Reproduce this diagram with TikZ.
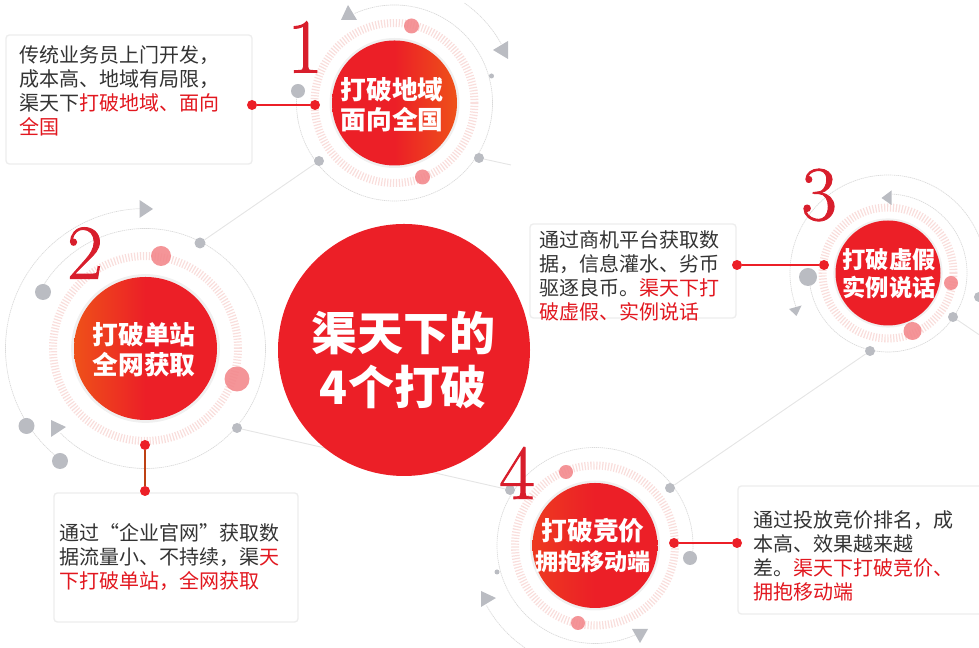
\documentclass[tikz,border=0pt]{standalone}
\usepackage{fontspec}
\newfontfamily\cjk[BoldFont={Noto Sans CJK SC Black}]{Noto Sans CJK SC}
\newfontfamily\numfont[FakeBold=1.2]{Latin Modern Roman}
\usetikzlibrary{shadows}
\definecolor{hubred}{HTML}{EC1F27}
\definecolor{hubfire}{HTML}{EE5119}
\definecolor{hubember}{HTML}{ED3A20}
\definecolor{numred}{HTML}{D81E2C}
\definecolor{mistgray}{HTML}{BABCC2}
\definecolor{rosepink}{HTML}{F3898D}
\definecolor{tickpink}{HTML}{F9DEDC}
\definecolor{inkgray}{HTML}{333333}
\definecolor{notered}{HTML}{E2171F}
\pgfdeclarehorizontalshading{fireright}{100bp}{color(0bp)=(hubred); color(50bp)=(hubred); color(75bp)=(hubfire); color(100bp)=(hubfire)}
\pgfdeclarehorizontalshading{fireleft}{100bp}{color(0bp)=(hubfire); color(25bp)=(hubfire); color(50bp)=(hubred); color(100bp)=(hubred)}
\pgfdeclarehorizontalshading{emberleft}{100bp}{color(0bp)=(hubember); color(25bp)=(hubember); color(50bp)=(hubred); color(100bp)=(hubred)}
\tikzset{
    hub/.style={circle,inner sep=0pt,minimum size=#1*.75pt,
        drop shadow={shadow xshift=0pt,shadow yshift=0pt,shadow scale=1.04,opacity=.12}},
    hublabel/.style={inner sep=0pt,text=white,align=center,
        font=\cjk\bfseries\fontsize{19.3}{22.5}\selectfont},
    graydot/.style={circle,inner sep=0pt,minimum size=#1*.75pt,fill=mistgray},
    pinkdot/.style={circle,inner sep=0pt,minimum size=#1*.75pt,fill=rosepink,opacity=.9},
    reddot/.style={circle,inner sep=0pt,minimum size=10*.75pt,fill=hubred},
    ticks/.style={draw=tickpink,line width=6pt,dash pattern=on .9pt off 1.3pt},
    ringline/.style={draw=black!15,line width=.5pt,dash pattern=on 1pt off .5pt},
    linkline/.style={draw=black!10,line width=.7pt},
    tipmark/.style={fill=mistgray},
    notebox/.style={draw=black!7,line width=1pt,fill=white,rounded corners=2.5pt,inner sep=0pt},
    notetext/.style={anchor=north west,inner sep=0pt,align=left,text=inkgray,
        font=\cjk\fontsize{15}{18}\selectfont},
    numlabel/.style={text=numred,font=\numfont\fontsize{58}{58}\selectfont}
}
\begin{document}
\begin{tikzpicture}[x=.75pt,y=.75pt]
    \useasboundingbox (0,0) rectangle (979,648);
    \clip (0,0) rectangle (979,648);

    \coordinate (c1) at (394.5,545);
    \coordinate (c2) at (145.5,299.5);
    \coordinate (c3) at (888,375);
    \coordinate (c4) at (595,102.5);

    % thin rings
    \draw[ringline] ([shift={(114:98)}]c1) arc (114:-187:98);
    \draw[ringline] ([shift={(55:122)}]c1) arc (55:29:122);
    \draw[ringline] ([shift={(151:120)}]c2) arc (151:-135:120);
    \draw[ringline] ([shift={(92:140)}]c2) arc (92:233:140);
    \draw[ringline] ([shift={(87:79)}]c3) arc (87:-177:79);
    \draw[ringline] ([shift={(201:98)}]c3) arc (201:19:98);
    \draw[ringline] ([shift={(-7:98)}]c4) arc (-7:297:98);
    \draw[ringline] ([shift={(209:124)}]c4) arc (209:250:124);

    % tick bands
    \draw[ticks] (c1) circle (80);
    \draw[ticks] (c2) circle (92.5);
    \draw[ticks] (c3) circle (65.5);
    \draw[ticks] (c4) circle (80);

    % small gray dots and their links
    \node[graydot=14] (g1a) at (298,557) {};
    \node[graydot=10] (g1b) at (319,487) {};
    \node[graydot=10] (g1c) at (479,490) {};
    \node[graydot=5] (g1d) at (491.5,572) {};
    \node[graydot=16] (g2a) at (43,356) {};
    \node[graydot=16] (g2b) at (26.5,222) {};
    \node[graydot=16] (g2c) at (60,187) {};
    \node[graydot=11] (g2d) at (200,405) {};
    \node[graydot=10] (g2e) at (237,220) {};
    \node[graydot=18] (g3a) at (808,371) {};
    \node[graydot=10] (g3b) at (953,331) {};
    \node[graydot=10] (g3c) at (870,297) {};
    \node[graydot=10] (g3d) at (979,351) {};
    \node[graydot=10] (g4a) at (670,160) {};
    \node[graydot=10] (g4b) at (510,158) {};
    \node[graydot=14] (g4c) at (690,90) {};
    \node[graydot=5] (g4d) at (497,76) {};
    \coordinate (e1) at (511,483);
    \coordinate (e3) at (981,312);
    \draw[linkline] (g1b) -- (g2d);
    \draw[linkline] (g2e) -- (g4b);
    \draw[linkline] (g1c) -- (e1);
    \draw[linkline] (g3b) -- (e3);
    \draw[linkline] (g3c) -- (g4a);

    % arrow marks on the rings
    \fill[tipmark] (348,643) -- (341,628) -- (357,628) -- cycle;
    \fill[tipmark] (493,598) -- (508,607) -- (508,589) -- cycle;
    \fill[tipmark] (153,439) -- (139.5,448) -- (139.5,430) -- cycle;
    \fill[tipmark] (66,221) -- (51,228) -- (51,211) -- cycle;
    \fill[tipmark] (881.5,450) -- (891.5,457.5) -- (891.5,443) -- cycle;
    \fill[tipmark] (796.5,332) -- (789,339) -- (801.5,342.5) -- cycle;
    \fill[tipmark] (496,50) -- (481,57) -- (481,41) -- cycle;
    \fill[tipmark] (640,5) -- (632,19) -- (648,19) -- cycle;

    % rose dots on the bands
    \node[pinkdot=15] (p1a) at (411.5,622) {};
    \node[pinkdot=15] (p1b) at (422.5,471) {};
    \node[pinkdot=20] (p2a) at (161,392) {};
    \node[pinkdot=25] (p2b) at (237,269) {};
    \node[pinkdot=14] (p3a) at (951,365) {};
    \node[pinkdot=18] (p3b) at (912.5,317) {};
    \node[pinkdot=14] (p4a) at (566,176) {};
    \node[pinkdot=14] (p4b) at (578,25) {};

    % hubs
    \node[circle,inner sep=0pt,minimum size=252*.75pt,fill=hubred] (main) at (404,298) {};
    \node[hub=125,shading=fireright] (hub1) at (c1) {};
    \node[hub=143,shading=fireleft] (hub2) at (c2) {};
    \node[hub=105,fill=hubred] (hub3) at (c3) {};
    \node[hub=125,shading=emberleft] (hub4) at (c4) {};
    \node[hublabel,font=\cjk\bfseries\fontsize{34.5}{40.5}\selectfont] (title) at (403,288) {渠天下的\\4个打破};
    \node[hublabel] (lab1) at (392,543) {打破地域\\面向全国};
    \node[hublabel] (lab2) at (144,298) {打破单站\\全网获取};
    \node[hublabel,font=\cjk\bfseries\fontsize{17.5}{21}\selectfont] (lab3) at (889,374) {打破虚假\\实例说话};
    \node[hublabel] (lab4) at (593,102) {打破竞价\\{\fontsize{17.3}{21}\selectfont 拥抱移动端}};

    % numbers
    \node[numlabel] (num1) at (305,601) {1};
    \node[numlabel] (num2) at (85,395) {2};
    \node[numlabel] (num3) at (819,453) {3};
    \node[numlabel] (num4) at (517,175) {4};

    % notes
    \node[notebox,minimum width=246*.75pt,minimum height=129*.75pt] (box1) at (129,548.5) {};
    \node[notebox,minimum width=244*.75pt,minimum height=129*.75pt] (box2) at (176,90.5) {};
    \node[notebox,minimum width=206*.75pt,minimum height=94*.75pt] (box3) at (633,377) {};
    \node[notebox,minimum width=247*.75pt,minimum height=128*.75pt] (box4) at (861.5,98) {};
    \node[notetext] (text1) at (19,603) {传统业务员上门开发，\\成本高、地域有局限，\\渠天下\textcolor{notered}{打破地域、面向}\\\textcolor{notered}{全国}};
    \node[notetext] (text2) at (59,125) {通过“企业官网”获取数\\据流量小、不持续，渠\textcolor{notered}{天}\\\textcolor{notered}{下打破单站，全网获取}};
    \node[notetext] (text3) at (539,418) {通过商机平台获取数\\据，信息灌水、劣币\\驱逐良币。\textcolor{notered}{渠天下打}\\\textcolor{notered}{破虚假、实例说话}};
    \node[notetext] (text4) at (753,138) {通过投放竞价排名，成\\本高、效果越来越\\差。\textcolor{notered}{渠天下打破竞价、}\\\textcolor{notered}{拥抱移动端}};

    % connectors
    \node[reddot] (from1) at (252,543) {};
    \node[reddot] (to1) at (315,543) {};
    \node[reddot] (from2) at (145,203) {};
    \node[reddot] (to2) at (145,157) {};
    \node[reddot] (from3) at (737,383) {};
    \node[reddot] (to3) at (824,383) {};
    \node[reddot] (from4) at (674,105) {};
    \node[reddot] (to4) at (737,105) {};
    \draw[hubred,line width=1pt] (from1) -- (to1);
    \draw[hubfire!80!black,line width=1pt] (from2) -- (to2);
    \draw[hubred,line width=1pt] (from3) -- (to3);
    \draw[hubred,line width=1pt] (from4) -- (to4);
\end{tikzpicture}
\end{document}
